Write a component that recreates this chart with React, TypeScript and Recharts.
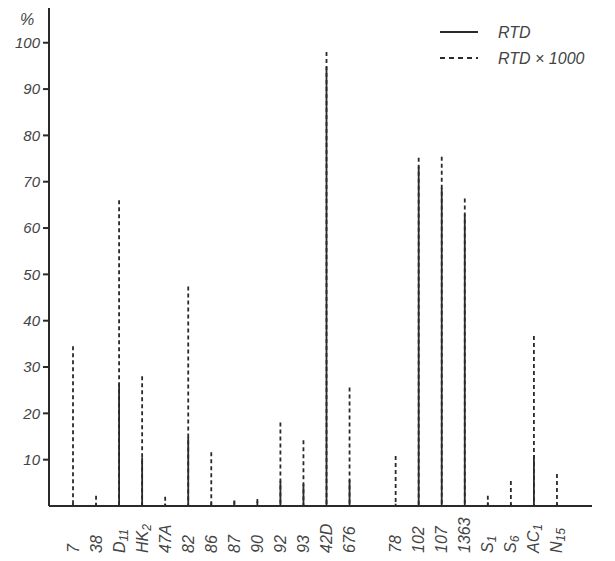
import React from "react";
import { BarChart, Bar, XAxis, YAxis, Legend } from "recharts";

// "|" splits a label into main text and subscript
const categories = ["7", "38", "D|11", "HK|2", "47A", "82", "86", "87", "90", "92", "93", "42D", "676", "", "78", "102", "107", "1363", "S|1", "S|6", "AC|1", "N|15"];
const rtd = [0.5, 0.6, 26.3, 10.5, 0.5, 14.9, 0.8, 1.0, 1.0, 5.4, 4.7, 94.8, 5.6, null, 0.5, 73.3, 68.7, 62.9, 0.8, 0.5, 11.0, 0.5];
const rtd1000 = [34.5, 2.2, 66.0, 28.0, 2.0, 47.4, 11.6, 1.2, 1.5, 18.0, 14.2, 98.0, 25.6, null, 10.8, 75.2, 75.4, 66.4, 2.2, 5.4, 36.7, 6.9];
const yTicks = [10, 20, 30, 40, 50, 60, 70, 80, 90, 100];

const data = categories.map((name, i) => ({ name, rtd: rtd[i], rtd1000: rtd1000[i] }));

const INK = "#2a2a2a";
const TEXT = "#444";
const FONT = "'Liberation Sans', Arial, sans-serif";

const stem = (dashed: boolean) =>
  // eslint-disable-next-line @typescript-eslint/no-explicit-any
  function Stem(props: any) {
    const { x, y, width, height } = props;
    if (x == null || !height || height <= 0) return <g />;
    const cx = x + width / 2;
    return (
      <line
        x1={cx}
        x2={cx}
        y1={y}
        y2={y + height}
        stroke={INK}
        strokeWidth={1.8}
        strokeDasharray={dashed ? "4 3" : undefined}
      />
    );
  };

// eslint-disable-next-line @typescript-eslint/no-explicit-any
function CatTick({ x, y, payload }: any) {
  const [main, sub] = String(payload.value).split("|");
  if (!main) return <g />;
  const bx = x + 6;
  const by = y + 47;
  return (
    <text
      transform={`rotate(-90 ${bx} ${by})`}
      x={bx}
      y={by}
      textAnchor="start"
      fontFamily={FONT}
      fontStyle="italic"
      fontSize={16}
      fill={TEXT}
    >
      {main}
      {sub && (
        <tspan fontSize={12} dy={3}>
          {sub}
        </tspan>
      )}
    </text>
  );
}

function LegendBox() {
  return (
    <svg width={185} height={60}>
      <line x1={10} x2={48} y1={17} y2={17} stroke={INK} strokeWidth={1.8} />
      <text x={68} y={23} fontFamily={FONT} fontStyle="italic" fontSize={16} fill={TEXT}>RTD</text>
      <line x1={10} x2={48} y1={43} y2={43} stroke={INK} strokeWidth={1.8} strokeDasharray="5 4" />
      <text x={68} y={49} fontFamily={FONT} fontStyle="italic" fontSize={16} fill={TEXT}>RTD × 1000</text>
    </svg>
  );
}

export default function App() {
  return (
    <div style={{ position: "absolute", left: 0, top: 0, width: 615, height: 561, background: "#fff" }}>
      <BarChart
        width={615}
        height={561}
        data={data}
        margin={{ top: 8, right: 23, bottom: 0, left: 0 }}
        barSize={2}
        barGap={-2}
      >
        <XAxis
          dataKey="name"
          interval={0}
          padding={{ left: 12, right: 24 }}
          tickLine={false}
          tickSize={0}
          tickMargin={0}
          height={55}
          stroke={INK}
          strokeWidth={2}
          tick={<CatTick />}
        />
        <YAxis
          width={49}
          domain={[0, 107.5]}
          ticks={yTicks}
          allowDataOverflow
          tickSize={6}
          tickMargin={3}
          stroke={INK}
          strokeWidth={2}
          tick={{ fontFamily: FONT, fontStyle: "italic", fontSize: 15, fill: TEXT }}
          label={{
            value: "%",
            // eslint-disable-next-line @typescript-eslint/no-explicit-any
            content: ({ viewBox }: any) => (
              <text
                x={(viewBox?.x ?? 0) + 27}
                y={(viewBox?.y ?? 8) + 17}
                textAnchor="middle"
                fontFamily={FONT}
                fontStyle="italic"
                fontSize={16}
                fill={TEXT}
              >
                %
              </text>
            ),
          }}
        />
        <Legend
          layout="horizontal"
          verticalAlign="middle"
          align="center"
          wrapperStyle={{ position: "absolute", top: 15, left: 430, width: 185, height: 60 }}
          content={() => <LegendBox />}
        />
        <Bar dataKey="rtd1000" name="RTD x 1000" isAnimationActive={false} shape={stem(true)} />
        <Bar dataKey="rtd" name="RTD" isAnimationActive={false} shape={stem(false)} />
      </BarChart>
    </div>
  );
}
